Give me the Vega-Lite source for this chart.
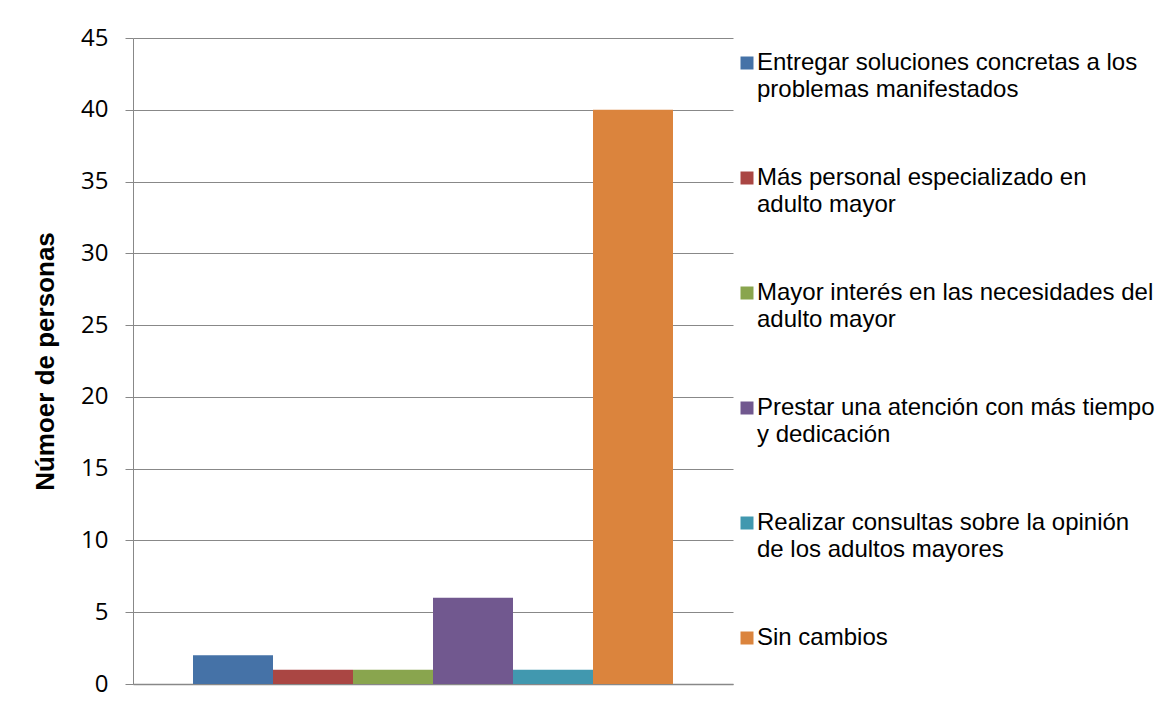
{
  "$schema": "https://vega.github.io/schema/vega-lite/v6.json",
  "width": 600,
  "height": 646,
  "autosize": {"type": "none"},
  "padding": {"left": 133, "top": 38, "right": 423, "bottom": 28},
  "background": "white",
  "data": {
    "values": [
      {"serie": "Entregar soluciones concretas a los problemas manifestados", "personas": 2},
      {"serie": "Más personal especializado en adulto mayor", "personas": 1},
      {"serie": "Mayor interés en las necesidades del adulto mayor", "personas": 1},
      {"serie": "Prestar una atención con más tiempo y dedicación", "personas": 6},
      {"serie": "Realizar consultas sobre la opinión de los adultos mayores", "personas": 1},
      {"serie": "Sin cambios", "personas": 40}
    ]
  },
  "mark": {"type": "bar"},
  "encoding": {
    "x": {
      "field": "serie",
      "type": "nominal",
      "sort": null,
      "scale": {"paddingInner": 0, "paddingOuter": 0.75},
      "axis": {"labels": false, "ticks": false, "title": null, "domain": true, "domainColor": "#888888", "domainWidth": 1.5, "grid": false}
    },
    "y": {
      "field": "personas",
      "type": "quantitative",
      "scale": {"domain": [0, 45], "nice": false},
      "axis": {
        "values": [0, 5, 10, 15, 20, 25, 30, 35, 40, 45],
        "title": "Númoer de personas",
        "titleFont": "Liberation Sans",
        "titleFontSize": 26,
        "titleFontWeight": "bold",
        "titleColor": "black",
        "titlePadding": 22,
        "labelFont": "Open Sans",
        "labelFontSize": 24,
        "labelColor": "black",
        "labelPadding": 17,
        "tickSize": 8,
        "tickColor": "#888888",
        "domainColor": "#888888",
        "gridColor": "#888888",
        "grid": true
      }
    },
    "color": {
      "field": "serie",
      "type": "nominal",
      "sort": null,
      "scale": {"range": ["#4572A7", "#AA4643", "#89A54E", "#71588F", "#4198AF", "#DB843D"]},
      "legend": {
        "title": null,
        "orient": "none",
        "legendX": 602,
        "legendY": 13,
        "symbolType": "square",
        "symbolSize": 169,
        "symbolStrokeWidth": 0,
        "labelFont": "Liberation Sans",
        "labelFontSize": 24,
        "labelColor": "black",
        "labelLimit": 600,
        "labelOffset": -2,
        "rowPadding": 64,
        "labelBaseline": "middle",
        "labelExpr": "datum.label == 'Entregar soluciones concretas a los problemas manifestados' ? ['Entregar soluciones concretas a los','problemas manifestados'] : datum.label == 'Más personal especializado en adulto mayor' ? ['Más personal especializado en','adulto mayor'] : datum.label == 'Mayor interés en las necesidades del adulto mayor' ? ['Mayor interés en las necesidades del','adulto mayor'] : datum.label == 'Prestar una atención con más tiempo y dedicación' ? ['Prestar una atención con más tiempo','y dedicación'] : datum.label == 'Realizar consultas sobre la opinión de los adultos mayores' ? ['Realizar consultas sobre la opinión','de los adultos mayores'] : datum.label"
      }
    }
  },
  "config": {
    "view": {"stroke": null},
    "style": {"guide-label": {"lineHeight": 27}}
  }
}
